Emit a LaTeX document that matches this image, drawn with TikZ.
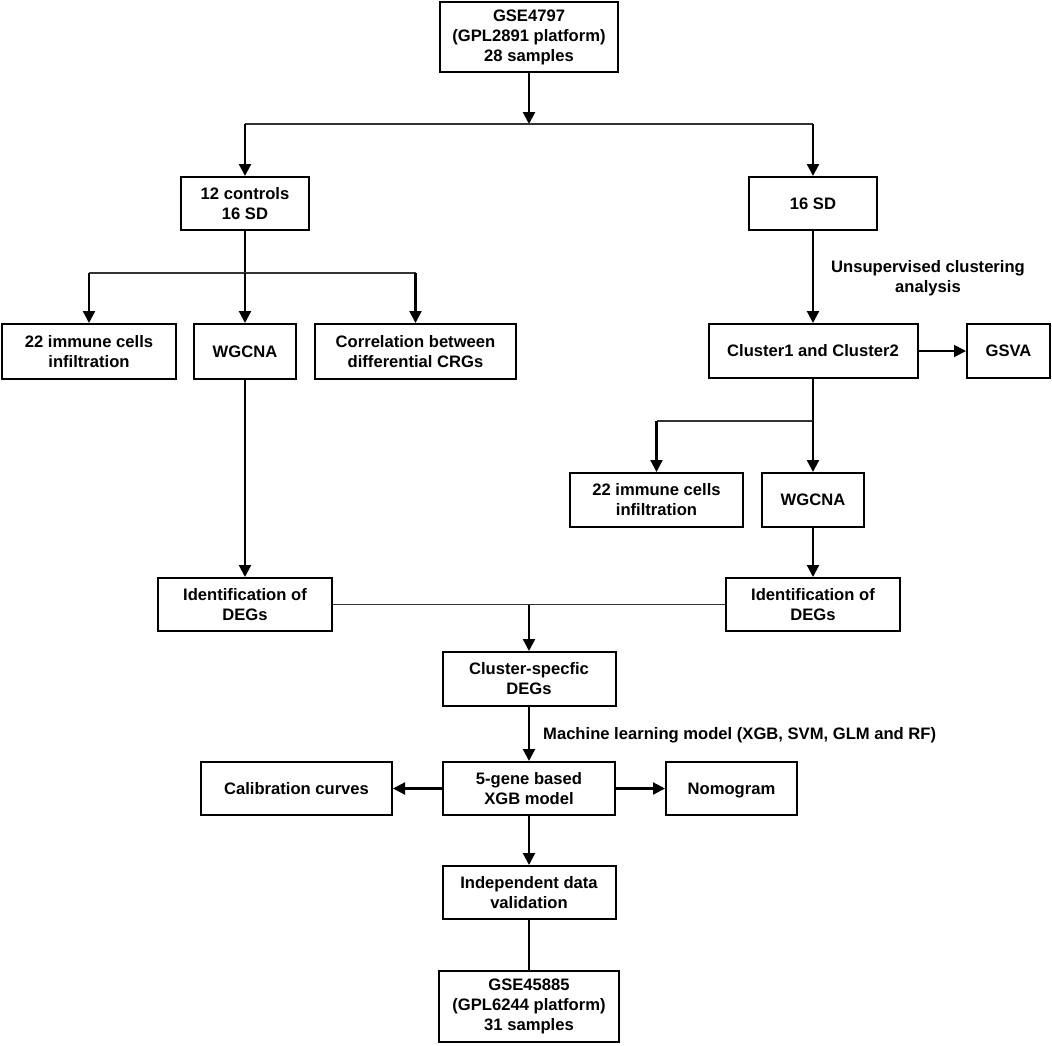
\documentclass[tikz,border=0pt]{standalone}
\usepackage{fontspec}
\setmainfont{Liberation Sans}
\usetikzlibrary{arrows.meta}
\begin{document}
\begin{tikzpicture}[x=1pt,y=-1pt,
  box/.style={draw, line width=2pt, inner sep=0pt, align=center,
    font=\bfseries\fontsize{16.6}{20}\selectfont},
  lbl/.style={inner sep=0pt, align=center, font=\bfseries\fontsize{16.6}{20}\selectfont},
  arr/.style={line width=2.2pt, -{Triangle[length=12pt,width=12pt]}},
  ln/.style={line width=2.2pt},
  thin/.style={line width=1.3pt, draw=black!80}]
\useasboundingbox[fill=white] (0,0) rectangle (1052,1045);
% nodes
\node[box, minimum width=178pt, minimum height=70pt] (top) at (529,37) {GSE4797\\(GPL2891 platform)\\28 samples};
\node[box, minimum width=128pt, minimum height=53pt] (ctrl) at (245,203.5) {12 controls\\16 SD};
\node[box, minimum width=128pt, minimum height=53pt] (sd) at (813,203.5) {16 SD};
\node[box, minimum width=174pt, minimum height=55pt] (imm1) at (89,351.5) {22 immune cells\\infiltration};
\node[box, minimum width=102pt, minimum height=55pt] (wg1) at (245,351.5) {WGCNA};
\node[box, minimum width=201pt, minimum height=55pt] (corr) at (415.5,351.5) {Correlation between\\differential CRGs};
\node[box, minimum width=209pt, minimum height=54pt] (clus) at (813,351) {Cluster1 and Cluster2};
\node[box, minimum width=83pt, minimum height=54pt] (gsva) at (1008.5,351) {GSVA};
\node[box, minimum width=173pt, minimum height=54pt] (imm2) at (656.5,500) {22 immune cells\\infiltration};
\node[box, minimum width=102pt, minimum height=54pt] (wg2) at (813,500) {WGCNA};
\node[box, minimum width=174pt, minimum height=53pt] (id1) at (245,604.5) {Identification of\\DEGs};
\node[box, minimum width=174pt, minimum height=53pt] (id2) at (813,604.5) {Identification of\\DEGs};
\node[box, minimum width=173pt, minimum height=54pt] (cs) at (529,679) {Cluster-specfic\\DEGs};
\node[box, minimum width=172pt, minimum height=53pt] (xgb) at (529,788.5) {5-gene based\\XGB model};
\node[box, minimum width=191pt, minimum height=53pt] (cal) at (296.5,788.5) {Calibration curves};
\node[box, minimum width=131pt, minimum height=53pt, text depth=0pt] (nom) at (731.5,788.5) {Nomogram};
\node[box, minimum width=173pt, minimum height=53pt] (val) at (529,892.5) {Independent data\\validation};
\node[box, minimum width=180pt, minimum height=71pt] (bot) at (529,1006.5) {GSE45885\\(GPL6244 platform)\\31 samples};
% labels
\node[lbl] (ulab) at (928,278) {Unsupervised clustering\\analysis};
\node[lbl, anchor=west] (mlab) at (543,735) {Machine learning model (XGB, SVM, GLM and RF)};
% junction coordinates
\coordinate (j0) at (529,124);
\coordinate (jl) at (245,124);
\coordinate (jr) at (813,124);
\coordinate (k0) at (245,273);
\coordinate (kl) at (89,273);
\coordinate (kr) at (415.5,273);
\coordinate (m0) at (813,421);
\coordinate (ml) at (656.5,421);
\coordinate (n0) at (529,604.5);
% connectors
\draw[arr] (top.south) -- (j0);
\draw[thin] (jl) -- (jr);
\draw[arr] (jl) -- (ctrl.north);
\draw[arr] (jr) -- (sd.north);
\draw[ln] (ctrl.south) -- (k0);
\draw[thin] (kl) -- (kr);
\draw[arr] (k0) -- (wg1.north);
\draw[arr] (kl) -- (imm1.north);
\draw[arr] (kr) -- (corr.north);
\draw[arr] (sd.south) -- (clus.north);
\draw[arr, line width=1.8pt] (clus.east) -- (gsva.west);
\draw[ln] (clus.south) -- (m0);
\draw[thin] (m0) -- (ml);
\draw[arr] (m0) -- (wg2.north);
\draw[arr] (ml) -- (imm2.north);
\draw[arr] (wg1.south) -- (id1.north);
\draw[arr] (wg2.south) -- (id2.north);
\draw[thin] (id1.east) -- (id2.west);
\draw[arr] (n0) -- (cs.north);
\draw[arr] (cs.south) -- (xgb.north);
\draw[arr] (xgb.west) -- (cal.east);
\draw[arr] (xgb.east) -- (nom.west);
\draw[arr] (xgb.south) -- (val.north);
\draw[ln] (val.south) -- (bot.north);
\end{tikzpicture}
\end{document}
